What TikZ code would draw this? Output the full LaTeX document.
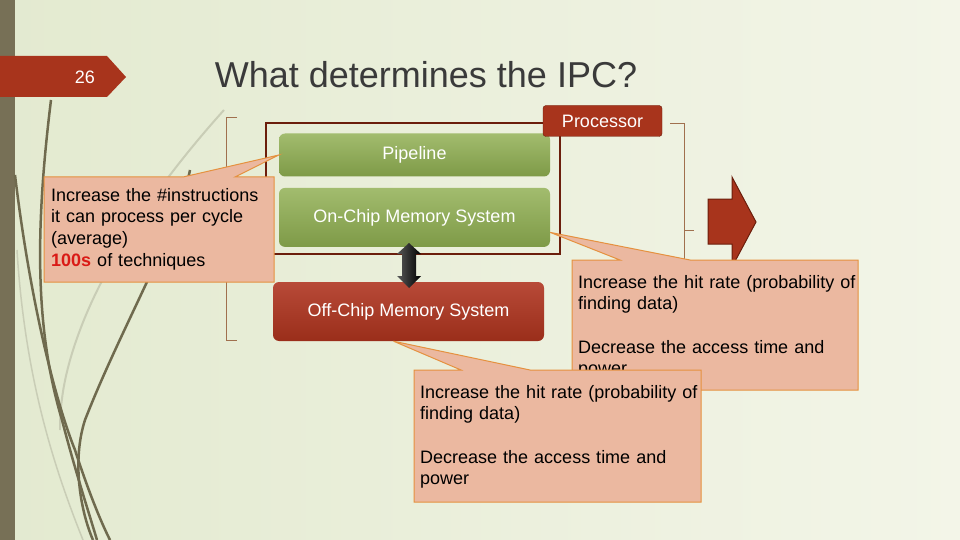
\documentclass[tikz,border=0pt]{standalone}
\usepackage{fontspec}
\setmainfont{Liberation Sans}
\usetikzlibrary{positioning, calc}
\definecolor{slidebg}{HTML}{E3EAD0}
\definecolor{slidebgr}{HTML}{F3F5E8}
\definecolor{barcol}{HTML}{777056}
\definecolor{rust}{HTML}{A8341C}
\definecolor{rustdark}{HTML}{6B1E0C}
\definecolor{leaftop}{HTML}{A2BC6E}
\definecolor{leafbot}{HTML}{7E9A47}
\definecolor{offtop}{HTML}{B84A38}
\definecolor{offbot}{HTML}{9A2E1A}
\definecolor{notefill}{HTML}{EBB8A0}
\definecolor{noteline}{HTML}{E5913F}
\definecolor{bracket}{HTML}{A0704E}
\definecolor{swirl}{HTML}{6F6A4E}
\definecolor{swirllight}{HTML}{C9CDB6}
\definecolor{titlegray}{HTML}{3A3A3A}
\definecolor{hotred}{HTML}{DA1A16}

\begin{document}
\begin{tikzpicture}[x=1pt, y=-1pt, font=\fontsize{18}{21.7}\selectfont,
  block/.style={rounded corners=6pt, minimum width=271pt, text=white},
  note/.style={fill=notefill, draw=noteline, line width=1pt},
  notetext/.style={anchor=base west, inner sep=0pt, text width=300pt, align=left}]
  \useasboundingbox (0,0) rectangle (960,540);

  % Background
  \shade[left color=slidebg, right color=slidebgr] (0,0) rectangle (960,540);
  \fill[barcol] (0,0) rectangle (15,540);

  % Swirls
  \draw[swirllight, line width=2pt] (224,110) .. controls (170,170) and (110,250) .. (80,330) .. controls (65,370) and (60,400) .. (60,430);
  \draw[swirllight, line width=1.5pt] (17,250) .. controls (25,380) and (55,470) .. (83,540);
  \draw[swirl, line width=2.5pt] (51,100) .. controls (35,230) and (35,330) .. (62,420) .. controls (75,470) and (88,510) .. (97,540);
  \draw[swirl, line width=2.5pt] (15,175) .. controls (30,300) and (55,400) .. (75,450) .. controls (88,490) and (100,520) .. (110,540);
  \draw[swirl, line width=2.5pt] (190,170) .. controls (178,230) and (120,330) .. (85,420) .. controls (72,460) and (80,510) .. (93,540);

  % Slide number and title
  \fill[rust] (0,56) -- (107,56) -- (126,77) -- (107,97) -- (0,97) -- cycle;
  \node[text=white] (slideno) at (85,77) {26};
  \node[text=titlegray, font=\fontsize{36}{43}\selectfont] (title) at (426,75) {What determines the IPC?};

  % Brackets
  \draw[bracket, line width=0.8pt] (237,117) -- (226,117) -- (226,340) -- (237,340);
  \draw[bracket, line width=0.8pt] (670,123) -- (684,123) -- (684,340) -- (672,340);
  \draw[bracket, line width=0.8pt] (684,230) -- (694,230);

  % Processor
  \draw[rustdark, line width=2pt] (266,123) rectangle (560,254);
  \node[block, top color=leaftop, bottom color=leafbot, minimum height=43pt] (pipe) at (414.5,155) {Pipeline};
  \node[block, top color=leaftop, bottom color=leafbot, minimum height=59pt, below=11pt of pipe] (onchip) {On-Chip Memory System};
  \node[fill=rust, draw=rustdark, rounded corners=3pt, minimum width=119pt, minimum height=31pt, text=white, inner sep=0pt] (proclabel) at (602.5,121) {Processor};

  % Memory
  \node[block, top color=offtop, bottom color=offbot, minimum height=59pt] (offchip) at (408.5,311.5) {Off-Chip Memory System};
  \shade[left color=black!65, right color=black] (409,243) -- (421,254) -- (416,254) -- (416,276) -- (421,276) -- (409,288) -- (397,276) -- (402,276) -- (402,254) -- (397,254) -- cycle;

  % Result arrow
  \filldraw[fill=rust, draw=rustdark, line width=1pt] (708,199) -- (732,199) -- (732,177) -- (756,222) -- (732,267) -- (732,244) -- (708,244) -- cycle;

  % Callouts
  \filldraw[note] (44,177) -- (183,177) -- (pipe.west) -- (235,177) -- (274,177) -- (274,282) -- (44,282) -- cycle;
  \node[notetext] (notepipe) at (51,201) {Increase the \#instructions\\ it can process per cycle\\ (average)\\ \textcolor{hotred}{\textbf{100s}} of techniques};
  \filldraw[note] (572,260) -- (620,260) -- ([yshift=-15pt]onchip.east) -- (690,260) -- (858,260) -- (858,390) -- (572,390) -- cycle;
  \node[notetext] (notechip) at (578,288) {Increase the hit rate (probability of\\ finding data)\\[21.7pt] Decrease the access time and\\ power};
  \filldraw[note] (414,370) -- (461,370) -- ([xshift=-15pt]offchip.south) -- (530,370) -- (701,370) -- (701,502) -- (414,502) -- cycle;
  \node[notetext] (noteoff) at (420,398) {Increase the hit rate (probability of\\ finding data)\\[21.7pt] Decrease the access time and\\ power};
\end{tikzpicture}
\end{document}
